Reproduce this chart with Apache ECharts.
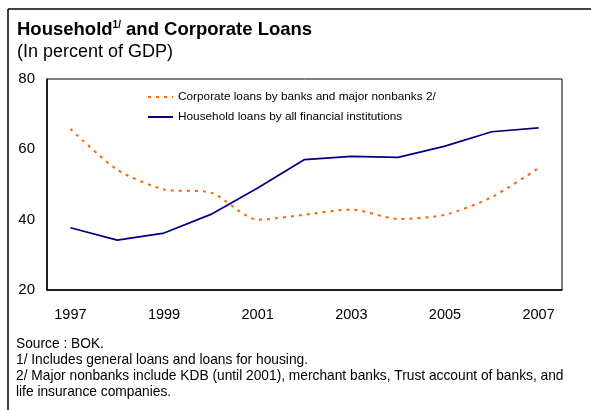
<!DOCTYPE html>
<html>
<head>
<meta charset="utf-8">
<script src="https://cdn.jsdelivr.net/npm/echarts@6/dist/echarts.min.js"></script>
<style>
html,body{margin:0;padding:0;background:#fff;}
#c{width:591px;height:410px;}
</style>
</head>
<body>
<div id="c"></div>
<script>
const years = ['1997','1998','1999','2000','2001','2002','2003','2004','2005','2006','2007'];
const corporate = [65.8, 54.2, 48.6, 47.7, 40.0, 41.4, 42.9, 40.2, 41.4, 46.4, 54.7];
const household = [37.7, 34.2, 36.2, 41.5, 49.0, 57.1, 58.0, 57.7, 60.9, 65.0, 66.1];
const yTicks = [20, 40, 60, 80];
const corporateName = 'Corporate loans by banks and major nonbanks 2/';
const householdName = 'Household loans by all financial institutions';
const footnotes = [
  'Source : BOK.',
  '1/ Includes general loans and loans for housing.',
  '2/ Major nonbanks include KDB (until 2001), merchant banks, Trust account of banks, and',
  'life insurance companies.'
];

const FONT = 'Arial, "Liberation Sans", sans-serif';
const chart = echarts.init(document.getElementById('c'), null, {renderer: 'canvas'});

const graphics = [
  {type: 'line', shape: {x1: 8, y1: 9, x2: 591, y2: 9}, style: {stroke: '#000', lineWidth: 1.5}},
  {type: 'line', shape: {x1: 8, y1: 9, x2: 8, y2: 410}, style: {stroke: '#000', lineWidth: 1.5}}
];
const footCenters = [344, 360, 376, 392];
footnotes.forEach((t, i) => {
  graphics.push({
    type: 'text', left: 16, top: footCenters[i] - 7,
    style: {text: t, font: '13.75px ' + FONT, fill: '#000'}
  });
});

chart.setOption({
  animation: false,
  backgroundColor: '#fff',
  title: {
    text: '{b|Household}{s|1/}{b| and Corporate Loans}',
    subtext: '(In percent of GDP)',
    left: 12, top: 15, itemGap: 4,
    textStyle: {
      rich: {
        b: {fontFamily: FONT, fontWeight: 'bold', fontSize: 18.5, color: '#000'},
        s: {fontFamily: FONT, fontWeight: 'bold', fontSize: 10, color: '#000', verticalAlign: 'top', padding: [0, 0, 9, 0]}
      }
    },
    subtextStyle: {fontFamily: FONT, fontSize: 18, color: '#000'}
  },
  legend: {
    orient: 'vertical', left: 142, top: 86,
    itemWidth: 25, itemHeight: 14, itemGap: 8,
    itemStyle: {opacity: 0},
    textStyle: {fontFamily: FONT, fontSize: 11.8, color: '#000'},
    data: [corporateName, householdName]
  },
  grid: {left: 47, right: 29, top: 79, bottom: 120, show: true, borderColor: '#000', borderWidth: 1},
  xAxis: {
    type: 'category', data: years, boundaryGap: true,
    axisLine: {lineStyle: {color: '#000', width: 1.5}},
    axisTick: {inside: true, length: 5, lineStyle: {color: '#000'}},
    axisLabel: {interval: 1, margin: 17, fontFamily: FONT, fontSize: 14.5, color: '#000'}
  },
  yAxis: {
    type: 'value', min: yTicks[0], max: yTicks[yTicks.length - 1], interval: 20,
    splitLine: {show: false},
    axisLine: {show: true, lineStyle: {color: '#000', width: 1.5}},
    axisTick: {show: false},
    axisLabel: {margin: 12, fontFamily: FONT, fontSize: 15, color: '#000'}
  },
  series: [
    {
      name: corporateName, type: 'line', data: corporate, symbol: 'none', smooth: 0.25,
      lineStyle: {color: '#FF6600', width: 2, type: [3, 5]}, itemStyle: {color: '#FF6600'}
    },
    {
      name: householdName, type: 'line', data: household, symbol: 'none',
      lineStyle: {color: '#000080', width: 1.75}, itemStyle: {color: '#000080'}
    }
  ],
  graphic: graphics
});
</script>
</body>
</html>
